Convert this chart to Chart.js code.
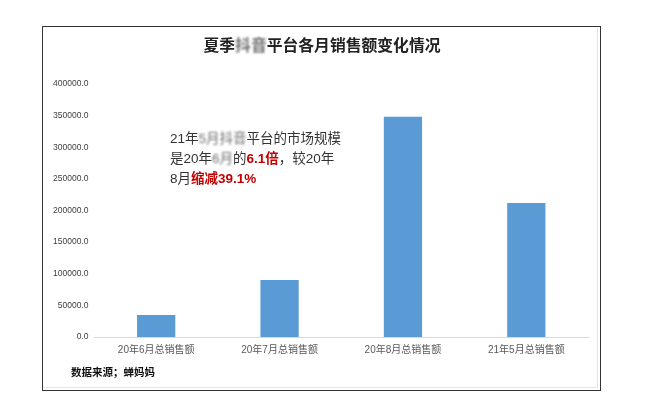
<!DOCTYPE html>
<html>
<head>
<meta charset="utf-8">
<script src="https://cdn.jsdelivr.net/npm/chart.js@4"></script>
<style>
  html, body { margin: 0; padding: 0; background: #fff; }
  #wrap { position: relative; width: 660px; height: 413px; overflow: hidden; }
  #chart { position: absolute; left: 0; top: 0; }
  .frame { position: absolute; left: 42px; top: 26px; width: 557px; height: 363px; border: 1.5px solid #333; }
  .inner { position: absolute; left: 44px; top: 28px; width: 553px; height: 359px; border-right: 1px solid #e4e4e4; border-bottom: 1px solid #e4e4e4; }
  .title { position: absolute; left: 43px; width: 558px; top: 35px; text-align: center;
    font: bold 15.8px "Noto Sans CJK SC", sans-serif; color: #222; line-height: 20px; }
  .blur { filter: blur(1.3px); color: #6e6e6e; }
  .note { position: absolute; left: 170px; top: 127px; line-height: 20px;
    font: 13.5px "Liberation Sans", "Noto Sans CJK SC", sans-serif; color: #333; white-space: nowrap; }
  .note .red { color: #c00000; font-weight: bold; }
  .src { position: absolute; left: 71px; top: 365px; font: bold 10.5px "Noto Sans CJK SC", sans-serif; color: #111; line-height: 14px; }
</style>
</head>
<body>
<div id="wrap">
  <canvas id="chart" width="660" height="413"></canvas>
  <div class="inner"></div>
  <div class="frame"></div>
  <div class="title">夏季<span class="blur">抖音</span>平台各月销售额变化情况</div>
  <div class="note">21年<span class="blur">5月抖音</span>平台的市场规模<br>是20年<span class="blur">6月</span>的<span class="red">6.1倍</span>，较20年<br>8月<span class="red">缩减39.1%</span></div>
  <div class="src">数据来源；蝉妈妈</div>
</div>
<script>
// data
const months = ['20年6月总销售额', '20年7月总销售额', '20年8月总销售额', '21年5月总销售额'];
const sales = [34750, 90000, 348100, 212000];
const yTicks = [0, 50000, 100000, 150000, 200000, 250000, 300000, 350000, 400000];

const ctx = document.getElementById('chart');
new Chart(ctx, {
  type: 'bar',
  data: {
    labels: months,
    datasets: [{
      data: sales,
      backgroundColor: '#5b9bd5',
      borderWidth: 0,
      barPercentage: 0.31,
      categoryPercentage: 1
    }]
  },
  options: {
    responsive: false,
    animation: false,
    layout: { padding: { left: 0, right: 72, top: 84, bottom: 0 } },
    plugins: { legend: { display: false }, tooltip: { enabled: false }, title: { display: false } },
    scales: {
      x: {
        grid: { display: false, drawTicks: false },
        border: { display: true, color: '#d9d9d9', width: 1 },
        ticks: {
          color: '#595959', padding: 7, maxRotation: 0,
          font: { size: 10, family: '"Liberation Sans", "Noto Sans CJK SC", sans-serif' }
        },
        afterFit: s => { s.height = 76; }
      },
      y: {
        min: 0, max: 400000,
        grid: { display: false, drawTicks: false },
        border: { display: false },
        afterBuildTicks: s => { s.ticks = yTicks.map(v => ({ value: v })); },
        ticks: {
          color: '#404040', padding: 6,
          font: { size: 8.5, family: '"Liberation Sans", sans-serif' },
          callback: v => v.toFixed(1)
        },
        afterFit: s => { s.width = 94.5; }
      }
    }
  }
});
</script>
</body>
</html>
